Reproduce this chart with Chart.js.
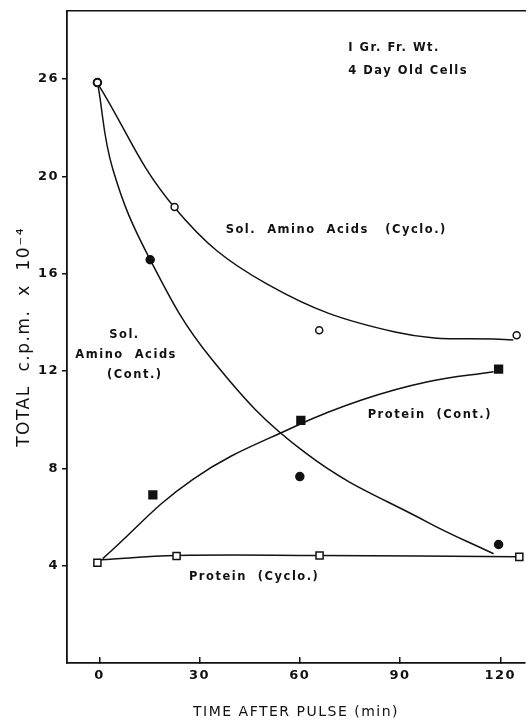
<!DOCTYPE html>
<html>
<head>
<meta charset="utf-8">
<script src="https://cdn.jsdelivr.net/npm/chart.js@4.4.0/dist/chart.umd.min.js"></script>
<style>
  html, body { margin: 0; padding: 0; background: #fff; }
  #wrap { width: 532px; height: 727px; }
</style>
</head>
<body>
<div id="wrap"><canvas id="chart"></canvas></div>
<script>
// measured points, time (min) vs total c.p.m. x 10^-4 (axis units)
const cycloAATimes = [-0.6, 22.5, 65.8, 124.9];
const cycloAAValues = [23.85, 18.74, 13.67, 13.47];
const contAATimes = [-0.6, 15.2, 60.0, 119.5];
const contAAValues = [23.85, 16.57, 7.66, 4.87];
const contProtTimes = [16.0, 60.3, 119.5];
const contProtValues = [6.91, 9.97, 12.08];
const cycloProtTimes = [-0.6, 23.1, 65.9, 125.7];
const cycloProtValues = [4.12, 4.40, 4.42, 4.36];

// hand-drawn fitted curves
const cycloAACurveX = [-0.5, 22.6, 50.1, 88.5, 123.9];
const cycloAACurveY = [23.81, 18.7, 15.58, 13.6, 13.27];
const contAACurveX = [-0.5, 4.0, 15.2, 33.4, 61.9, 98.3, 118.0];
const contAACurveY = [23.81, 20.3, 16.57, 12.52, 8.61, 5.78, 4.49];
const contProtCurveX = [1.0, 28.0, 58.5, 78.7, 98.3, 118.0];
const contProtCurveY = [4.29, 7.55, 9.72, 10.82, 11.56, 11.97];
const cycloProtCurveX = [0.5, 23.1, 65.9, 125.0];
const cycloProtCurveY = [4.24, 4.42, 4.42, 4.37];

const xTickValues = [0, 30, 60, 90, 120];
const yTickValues = [4, 8, 12, 16, 20, 24];
const yTickLabels = ['4', '8', '12', '16', '20', '26'];

const xy = (xs, ys) => xs.map((x, i) => ({x: x, y: ys[i]}));

const notes = [
  {text: 'I Gr. Fr. Wt.', x: 74.5, y: 25.27, align: 'left'},
  {text: '4 Day Old Cells', x: 74.5, y: 24.33, align: 'left'},
  {text: 'Sol.  Amino  Acids   (Cyclo.)', x: 37.8, y: 17.8, align: 'left'},
  {text: 'Sol.', x: 7.5, y: 13.47, align: 'center'},
  {text: 'Amino  Acids', x: 8.0, y: 12.65, align: 'center'},
  {text: '(Cont.)', x: 10.6, y: 11.84, align: 'center'},
  {text: 'Protein  (Cont.)', x: 80.3, y: 10.2, align: 'left'},
  {text: 'Protein  (Cyclo.)', x: 26.8, y: 3.55, align: 'left'}
];

const notesPlugin = {
  id: 'notes',
  beforeDraw(chart) {
    chart.ctx.letterSpacing = '1.5px';
  },
  afterDraw(chart) {
    const ctx = chart.ctx;
    const xs = chart.scales.x, ys = chart.scales.y;
    ctx.save();
    ctx.fillStyle = '#111';
    ctx.font = 'bold 11.5px "DejaVu Sans"';
    ctx.letterSpacing = '1.5px';
    ctx.textBaseline = 'middle';
    notes.forEach(n => {
      ctx.textAlign = n.align;
      ctx.fillText(n.text, xs.getPixelForValue(n.x), ys.getPixelForValue(n.y));
    });
    ctx.restore();
  }
};

const curve = (data) => ({
  type: 'line', data: data, borderColor: '#111', borderWidth: 1.5,
  pointRadius: 0, fill: false, tension: 0.4, order: 2
});
const marks = (data, style, radius, fill) => ({
  type: 'scatter', data: data, pointStyle: style, pointRadius: radius,
  backgroundColor: fill, borderColor: '#111', borderWidth: 1.5, order: 1
});

new Chart(document.getElementById('chart'), {
  data: {
    datasets: [
      marks(xy(cycloAATimes, cycloAAValues), 'circle', 3.5, '#fff'),
      marks(xy(contAATimes, contAAValues), 'circle', 4, '#111'),
      marks(xy(contProtTimes, contProtValues), 'rect', 5.5, '#111'),
      marks(xy(cycloProtTimes, cycloProtValues), 'rect', 5, '#fff'),
      curve(xy(cycloAACurveX, cycloAACurveY)),
      curve(xy(contAACurveX, contAACurveY)),
      curve(xy(contProtCurveX, contProtCurveY)),
      curve(xy(cycloProtCurveX, cycloProtCurveY))
    ]
  },
  options: {
    responsive: true,
    maintainAspectRatio: false,
    animation: false,
    layout: {padding: 0},
    plugins: {legend: {display: false}, tooltip: {enabled: false}},
    scales: {
      x: {
        type: 'linear', position: 'bottom', min: -9.7, max: 127.4,
        afterBuildTicks: s => { s.ticks = xTickValues.map(v => ({value: v})); },
        afterFit: s => { s.height = 64; },
        grid: {drawOnChartArea: false, tickLength: -6, color: '#111', lineWidth: 1.5},
        border: {display: true, color: '#111', width: 1.8},
        ticks: {color: '#111', padding: 11, font: {family: 'DejaVu Sans', size: 13, weight: 'bold'}},
        title: {display: true, text: 'TIME AFTER PULSE (min)', color: '#111',
          padding: {top: 0, bottom: 6}, font: {family: 'DejaVu Sans', size: 14}}
      },
      xTop: {
        type: 'linear', position: 'top', min: -9.7, max: 127.4,
        afterFit: s => { s.height = 9; },
        grid: {display: false}, ticks: {display: false},
        border: {display: true, color: '#111', width: 1.5}
      },
      y: {
        type: 'linear', position: 'left', min: 0, max: 26.8,
        afterBuildTicks: s => { s.ticks = yTickValues.map(v => ({value: v})); },
        afterFit: s => { s.width = 67; },
        grid: {drawOnChartArea: false, tickLength: 5, color: '#111', lineWidth: 1.5},
        border: {display: true, color: '#111', width: 1.8},
        ticks: {color: '#111', padding: 3, font: {family: 'DejaVu Sans', size: 13, weight: 'bold'},
          callback: (v, i) => yTickLabels[i]},
        title: {display: true, text: 'TOTAL  c.p.m.  x  10⁻⁴', color: '#111',
          padding: {top: 14, bottom: 0}, font: {family: 'DejaVu Sans', size: 17}}
      }
    }
  },
  plugins: [notesPlugin]
});
</script>
</body>
</html>
